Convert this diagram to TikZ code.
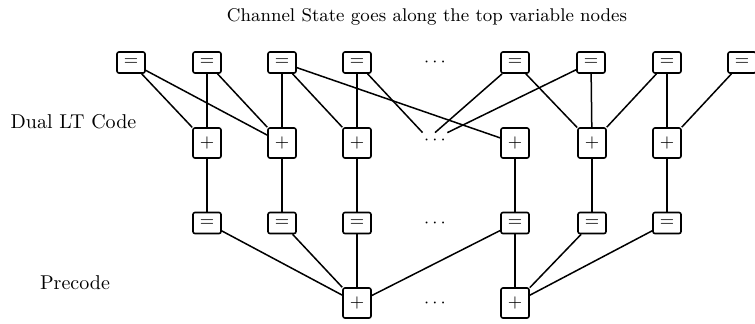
\documentclass[tikz,border=0pt]{standalone}
\begin{document}
\begin{tikzpicture}[x=0.5pt,y=-0.5pt,
  eqbox/.style={draw, line width=0.8pt, rounded corners=1pt, minimum width=14pt, minimum height=10.5pt, inner sep=0pt, font=\fontsize{9}{9}\selectfont},
  plusbox/.style={eqbox, minimum height=15pt},
  link/.style={line width=0.75pt},
  lbl/.style={anchor=base, inner sep=0pt, font=\fontsize{10}{12}\selectfont},
  dotsnode/.style={inner sep=0pt, font=\fontsize{9}{9}\selectfont}]
\useasboundingbox (0,0) rectangle (755,323);

% labels
\node[lbl, font=\fontsize{9.2}{11}\selectfont] (title) at (427,21) {Channel State goes along the top variable nodes};
\node[lbl] (dual) at (73.5,128) {Dual LT Code};
\node[lbl] (pre) at (75,289) {Precode};

% top variable nodes
\foreach \n/\x in {1/131,2/207,3/282,4/357,5/515,6/591,7/667,8/742}
  \node[eqbox] (T\n) at (\x,62.5) {$=$};
% dual LT check nodes
\foreach \n/\x in {1/207,2/282,3/357,4/515,5/592,6/667}
  \node[plusbox] (P\n) at (\x,143) {$+$};
% middle variable nodes
\foreach \n/\x in {1/207,2/282,3/357,4/515,5/592,6/667}
  \node[eqbox] (M\n) at (\x,223) {$=$};
% precode check nodes
\node[plusbox] (B1) at (357,303) {$+$};
\node[plusbox] (B2) at (515,303) {$+$};

% dots
\node[dotsnode] (td) at (435,62) {$\cdots$};
\node[dotsnode, minimum width=12pt, minimum height=7pt] (pd) at (435,140) {$\cdots$};
\node[dotsnode] (md) at (435,223) {$\cdots$};
\node[dotsnode] (bd) at (435,303) {$\cdots$};

% dual LT code edges
\draw[link] (T1) -- (P1);
\draw[link] (T1) -- (P2);
\draw[link] (T2) -- (P1);
\draw[link] (T2) -- (P2);
\draw[link] (T3) -- (P2);
\draw[link] (T3) -- (P3);
\draw[link] (T3) -- (P4);
\draw[link] (T4) -- (P3);
\draw[link] (T4) -- (pd.north west);
\draw[link] (T5) -- (pd.north);
\draw[link] (T5) -- (P5);
\draw[link] (T6) -- (pd.north east);
\draw[link] (T6) -- (P5);
\draw[link] (T7) -- (P5);
\draw[link] (T7) -- (P6);
\draw[link] (T8) -- (P6);

% checks to intermediate nodes
\foreach \n in {1,...,6}
  \draw[link] (P\n) -- (M\n);

% precode edges
\draw[link] (M1) -- (B1);
\draw[link] (M2) -- (B1);
\draw[link] (M3) -- (B1);
\draw[link] (M4) -- (B1);
\draw[link] (M4) -- (B2);
\draw[link] (M5) -- (B2);
\draw[link] (M6) -- (B2);
\end{tikzpicture}
\end{document}
